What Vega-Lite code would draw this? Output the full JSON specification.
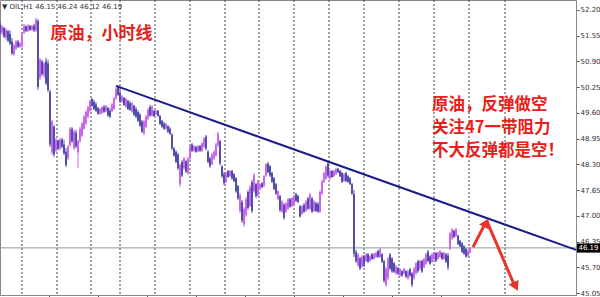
{
  "$schema": "https://vega.github.io/schema/vega-lite/v6.json",
  "width": 576,
  "height": 295,
  "autosize": {"type": "none"},
  "padding": {"left": 0, "top": 0, "right": 24, "bottom": 2},
  "background": "white",
  "config": {
    "view": {"stroke": "#888", "strokeWidth": 1},
    "axis": {"grid": false, "domainColor": "#888", "tickColor": "#555", "labelFont": "DejaVu Sans", "labelFontSize": 7, "labelColor": "#333", "tickSize": 3, "labelPadding": 1}
  },
  "datasets": {
    "grid": [{"g":22},{"g":57},{"g":91},{"g":120},{"g":155},{"g":190},{"g":225},{"g":259},{"g":294},{"g":329},{"g":364},{"g":399},{"g":434},{"g":469},{"g":505}],
    "candles": [
      {"t":0,"h":51.90,"l":51.57,"o":51.85,"c":51.62},
      {"t":2,"h":51.82,"l":51.57,"o":51.62,"c":51.78},
      {"t":4,"h":51.77,"l":51.49,"o":51.74,"c":51.52},
      {"t":6,"h":51.74,"l":51.44,"o":51.50,"c":51.70},
      {"t":8,"h":51.69,"l":51.39,"o":51.66,"c":51.42},
      {"t":10,"h":51.69,"l":51.31,"o":51.60,"c":51.35},
      {"t":12,"h":51.49,"l":51.06,"o":51.40,"c":51.10},
      {"t":14,"h":51.36,"l":51.04,"o":51.08,"c":51.30},
      {"t":16,"h":51.44,"l":51.19,"o":51.22,"c":51.40},
      {"t":18,"h":51.44,"l":51.24,"o":51.40,"c":51.27},
      {"t":20,"h":51.39,"l":51.24,"o":51.27,"c":51.36},
      {"t":22,"h":51.62,"l":51.24,"o":51.28,"c":51.58},
      {"t":24,"h":51.85,"l":51.59,"o":51.62,"c":51.80},
      {"t":26,"h":51.82,"l":51.64,"o":51.78,"c":51.67},
      {"t":28,"h":51.85,"l":51.64,"o":51.67,"c":51.80},
      {"t":30,"h":51.82,"l":51.67,"o":51.80,"c":51.70},
      {"t":32,"h":51.82,"l":51.67,"o":51.70,"c":51.79},
      {"t":34,"h":51.85,"l":51.64,"o":51.80,"c":51.68},
      {"t":36,"h":52.00,"l":51.64,"o":51.68,"c":51.95},
      {"t":38,"h":51.97,"l":50.18,"o":51.92,"c":50.25},
      {"t":40,"h":50.99,"l":50.43,"o":50.48,"c":50.94},
      {"t":42,"h":50.94,"l":50.53,"o":50.90,"c":50.58},
      {"t":44,"h":50.89,"l":50.48,"o":50.55,"c":50.85},
      {"t":46,"h":50.99,"l":50.30,"o":50.90,"c":50.35},
      {"t":48,"h":50.94,"l":50.13,"o":50.85,"c":50.18},
      {"t":50,"h":50.18,"l":48.74,"o":50.13,"c":48.80},
      {"t":52,"h":49.42,"l":48.54,"o":48.60,"c":49.38},
      {"t":54,"h":49.29,"l":48.49,"o":49.25,"c":48.55},
      {"t":56,"h":48.97,"l":48.61,"o":48.65,"c":48.92},
      {"t":58,"h":48.92,"l":48.66,"o":48.90,"c":48.70},
      {"t":60,"h":48.97,"l":48.66,"o":48.70,"c":48.93},
      {"t":62,"h":48.97,"l":48.71,"o":48.93,"c":48.75},
      {"t":64,"h":48.92,"l":48.54,"o":48.80,"c":48.58},
      {"t":66,"h":48.71,"l":48.23,"o":48.62,"c":48.28},
      {"t":68,"h":48.79,"l":48.41,"o":48.45,"c":48.75},
      {"t":70,"h":49.24,"l":48.74,"o":48.78,"c":49.20},
      {"t":72,"h":49.24,"l":48.84,"o":49.20,"c":48.88},
      {"t":74,"h":49.17,"l":48.66,"o":48.70,"c":49.12},
      {"t":76,"h":49.17,"l":48.71,"o":49.10,"c":48.75},
      {"t":78,"h":48.92,"l":48.21,"o":48.60,"c":48.88},
      {"t":80,"h":49.24,"l":48.84,"o":48.88,"c":49.20},
      {"t":82,"h":49.37,"l":48.99,"o":49.02,"c":49.33},
      {"t":84,"h":49.55,"l":49.17,"o":49.20,"c":49.50},
      {"t":86,"h":49.67,"l":49.29,"o":49.33,"c":49.62},
      {"t":88,"h":49.77,"l":49.47,"o":49.50,"c":49.74},
      {"t":90,"h":49.93,"l":49.62,"o":49.65,"c":49.90},
      {"t":92,"h":49.98,"l":49.75,"o":49.95,"c":49.78},
      {"t":94,"h":49.93,"l":49.67,"o":49.88,"c":49.70},
      {"t":96,"h":49.87,"l":49.62,"o":49.82,"c":49.65},
      {"t":98,"h":49.75,"l":49.55,"o":49.72,"c":49.58},
      {"t":100,"h":49.72,"l":49.55,"o":49.58,"c":49.70},
      {"t":102,"h":49.77,"l":49.57,"o":49.60,"c":49.74},
      {"t":104,"h":49.80,"l":49.60,"o":49.75,"c":49.63},
      {"t":106,"h":49.80,"l":49.62,"o":49.64,"c":49.78},
      {"t":108,"h":49.75,"l":49.50,"o":49.72,"c":49.53},
      {"t":110,"h":49.72,"l":49.47,"o":49.65,"c":49.50},
      {"t":112,"h":49.85,"l":49.62,"o":49.64,"c":49.82},
      {"t":114,"h":50.00,"l":49.67,"o":49.70,"c":49.97},
      {"t":116,"h":50.25,"l":49.93,"o":49.96,"c":50.20},
      {"t":118,"h":50.30,"l":50.03,"o":50.25,"c":50.05},
      {"t":120,"h":50.18,"l":49.85,"o":50.10,"c":49.88},
      {"t":122,"h":50.05,"l":49.85,"o":49.88,"c":50.02},
      {"t":124,"h":50.00,"l":49.77,"o":49.98,"c":49.80},
      {"t":126,"h":49.98,"l":49.72,"o":49.75,"c":49.95},
      {"t":128,"h":49.93,"l":49.67,"o":49.90,"c":49.70},
      {"t":130,"h":49.90,"l":49.65,"o":49.85,"c":49.68},
      {"t":132,"h":49.87,"l":49.60,"o":49.63,"c":49.84},
      {"t":134,"h":49.80,"l":49.52,"o":49.78,"c":49.55},
      {"t":136,"h":49.75,"l":49.47,"o":49.70,"c":49.50},
      {"t":138,"h":49.67,"l":49.37,"o":49.62,"c":49.40},
      {"t":140,"h":49.60,"l":49.24,"o":49.55,"c":49.28},
      {"t":142,"h":49.42,"l":49.09,"o":49.38,"c":49.12},
      {"t":144,"h":49.42,"l":49.04,"o":49.08,"c":49.38},
      {"t":146,"h":49.55,"l":49.22,"o":49.25,"c":49.50},
      {"t":148,"h":49.72,"l":49.42,"o":49.45,"c":49.68},
      {"t":150,"h":49.80,"l":49.50,"o":49.75,"c":49.53},
      {"t":152,"h":49.80,"l":49.50,"o":49.53,"c":49.76},
      {"t":154,"h":49.67,"l":49.50,"o":49.65,"c":49.52},
      {"t":156,"h":49.67,"l":49.55,"o":49.56,"c":49.65},
      {"t":158,"h":49.67,"l":49.50,"o":49.65,"c":49.52},
      {"t":160,"h":49.55,"l":49.29,"o":49.52,"c":49.32},
      {"t":162,"h":49.42,"l":49.22,"o":49.40,"c":49.25},
      {"t":164,"h":49.37,"l":49.17,"o":49.33,"c":49.20},
      {"t":166,"h":49.35,"l":49.17,"o":49.20,"c":49.32},
      {"t":168,"h":49.29,"l":49.09,"o":49.27,"c":49.12},
      {"t":170,"h":49.24,"l":49.04,"o":49.20,"c":49.07},
      {"t":172,"h":49.09,"l":48.66,"o":49.05,"c":48.70},
      {"t":174,"h":48.74,"l":48.49,"o":48.70,"c":48.52},
      {"t":176,"h":48.66,"l":48.33,"o":48.62,"c":48.36},
      {"t":178,"h":48.59,"l":48.16,"o":48.55,"c":48.20},
      {"t":180,"h":48.33,"l":47.73,"o":47.80,"c":48.28},
      {"t":182,"h":48.41,"l":47.98,"o":48.36,"c":48.02},
      {"t":184,"h":48.49,"l":48.16,"o":48.20,"c":48.45},
      {"t":186,"h":48.41,"l":48.08,"o":48.38,"c":48.12},
      {"t":188,"h":48.49,"l":48.03,"o":48.08,"c":48.45},
      {"t":190,"h":48.79,"l":48.41,"o":48.45,"c":48.75},
      {"t":192,"h":48.84,"l":48.61,"o":48.80,"c":48.64},
      {"t":194,"h":48.79,"l":48.61,"o":48.64,"c":48.76},
      {"t":196,"h":48.76,"l":48.59,"o":48.74,"c":48.62},
      {"t":198,"h":48.79,"l":48.61,"o":48.63,"c":48.76},
      {"t":200,"h":48.79,"l":48.61,"o":48.76,"c":48.64},
      {"t":202,"h":48.86,"l":48.61,"o":48.64,"c":48.83},
      {"t":204,"h":48.99,"l":48.71,"o":48.75,"c":48.95},
      {"t":206,"h":49.04,"l":48.66,"o":49.00,"c":48.70},
      {"t":208,"h":48.66,"l":48.33,"o":48.62,"c":48.36},
      {"t":210,"h":48.49,"l":48.21,"o":48.45,"c":48.25},
      {"t":212,"h":48.59,"l":48.28,"o":48.30,"c":48.55},
      {"t":214,"h":48.66,"l":48.41,"o":48.45,"c":48.62},
      {"t":216,"h":48.84,"l":48.49,"o":48.52,"c":48.80},
      {"t":218,"h":49.12,"l":48.74,"o":48.78,"c":49.08},
      {"t":220,"h":48.92,"l":48.28,"o":48.88,"c":48.32},
      {"t":222,"h":48.28,"l":47.96,"o":48.25,"c":48.00},
      {"t":224,"h":48.11,"l":47.78,"o":48.05,"c":47.82},
      {"t":226,"h":48.11,"l":47.83,"o":47.85,"c":48.08},
      {"t":228,"h":48.16,"l":47.96,"o":48.13,"c":47.98},
      {"t":230,"h":48.16,"l":47.98,"o":48.00,"c":48.13},
      {"t":232,"h":48.16,"l":47.91,"o":48.13,"c":47.94},
      {"t":234,"h":48.08,"l":47.85,"o":48.05,"c":47.88},
      {"t":236,"h":47.98,"l":47.58,"o":47.95,"c":47.62},
      {"t":238,"h":47.78,"l":47.40,"o":47.75,"c":47.44},
      {"t":240,"h":47.58,"l":47.07,"o":47.12,"c":47.52},
      {"t":242,"h":47.40,"l":46.82,"o":47.35,"c":46.88},
      {"t":244,"h":47.22,"l":46.72,"o":46.78,"c":47.18},
      {"t":246,"h":47.48,"l":46.97,"o":47.02,"c":47.42},
      {"t":248,"h":47.65,"l":47.15,"o":47.60,"c":47.20},
      {"t":250,"h":47.78,"l":47.22,"o":47.25,"c":47.72},
      {"t":252,"h":47.91,"l":47.07,"o":47.85,"c":47.12},
      {"t":254,"h":48.08,"l":47.58,"o":47.62,"c":48.03},
      {"t":256,"h":47.83,"l":47.45,"o":47.80,"c":47.50},
      {"t":258,"h":47.91,"l":47.48,"o":47.52,"c":47.87},
      {"t":260,"h":47.83,"l":47.65,"o":47.68,"c":47.80},
      {"t":262,"h":47.85,"l":47.70,"o":47.82,"c":47.72},
      {"t":264,"h":48.03,"l":47.73,"o":47.76,"c":48.00},
      {"t":266,"h":48.33,"l":47.98,"o":48.02,"c":48.30},
      {"t":268,"h":48.36,"l":48.08,"o":48.32,"c":48.10},
      {"t":270,"h":48.28,"l":47.98,"o":48.25,"c":48.02},
      {"t":272,"h":48.11,"l":47.83,"o":48.08,"c":47.86},
      {"t":274,"h":47.98,"l":47.65,"o":47.95,"c":47.68},
      {"t":276,"h":47.83,"l":47.53,"o":47.80,"c":47.56},
      {"t":278,"h":47.65,"l":47.40,"o":47.42,"c":47.62},
      {"t":280,"h":47.53,"l":47.10,"o":47.50,"c":47.14},
      {"t":282,"h":47.40,"l":47.07,"o":47.10,"c":47.36},
      {"t":284,"h":47.32,"l":46.90,"o":47.28,"c":46.95},
      {"t":286,"h":47.35,"l":47.07,"o":47.10,"c":47.32},
      {"t":288,"h":47.45,"l":47.15,"o":47.18,"c":47.42},
      {"t":290,"h":47.45,"l":47.20,"o":47.42,"c":47.23},
      {"t":292,"h":47.48,"l":47.22,"o":47.25,"c":47.45},
      {"t":294,"h":47.53,"l":47.27,"o":47.30,"c":47.50},
      {"t":296,"h":47.58,"l":47.35,"o":47.55,"c":47.38},
      {"t":298,"h":47.53,"l":47.32,"o":47.50,"c":47.35},
      {"t":300,"h":47.27,"l":46.95,"o":47.24,"c":46.98},
      {"t":302,"h":47.27,"l":47.02,"o":47.05,"c":47.24},
      {"t":304,"h":47.32,"l":47.07,"o":47.28,"c":47.10},
      {"t":306,"h":47.40,"l":47.10,"o":47.12,"c":47.36},
      {"t":308,"h":47.48,"l":47.15,"o":47.44,"c":47.18},
      {"t":310,"h":47.58,"l":47.15,"o":47.18,"c":47.54},
      {"t":312,"h":47.48,"l":47.07,"o":47.44,"c":47.10},
      {"t":314,"h":47.40,"l":47.10,"o":47.12,"c":47.36},
      {"t":316,"h":47.35,"l":47.10,"o":47.32,"c":47.12},
      {"t":318,"h":47.35,"l":47.07,"o":47.30,"c":47.10},
      {"t":320,"h":47.65,"l":47.07,"o":47.10,"c":47.60},
      {"t":322,"h":47.91,"l":47.53,"o":47.56,"c":47.87},
      {"t":324,"h":48.11,"l":47.83,"o":47.86,"c":48.08},
      {"t":326,"h":48.28,"l":47.91,"o":47.94,"c":48.24},
      {"t":328,"h":48.36,"l":47.98,"o":48.32,"c":48.02},
      {"t":330,"h":48.16,"l":47.91,"o":47.94,"c":48.13},
      {"t":332,"h":48.16,"l":47.96,"o":48.13,"c":47.98},
      {"t":334,"h":48.16,"l":47.98,"o":48.00,"c":48.14},
      {"t":336,"h":48.21,"l":48.03,"o":48.05,"c":48.19},
      {"t":338,"h":48.21,"l":48.08,"o":48.19,"c":48.10},
      {"t":340,"h":48.16,"l":47.98,"o":48.14,"c":48.00},
      {"t":342,"h":48.11,"l":47.83,"o":48.08,"c":47.86},
      {"t":344,"h":48.08,"l":47.85,"o":47.88,"c":48.05},
      {"t":346,"h":48.11,"l":47.85,"o":48.08,"c":47.88},
      {"t":348,"h":48.03,"l":47.83,"o":48.00,"c":47.86},
      {"t":350,"h":47.98,"l":47.78,"o":47.95,"c":47.80},
      {"t":352,"h":47.83,"l":47.53,"o":47.80,"c":47.56},
      {"t":354,"h":47.65,"l":45.96,"o":47.55,"c":46.05},
      {"t":356,"h":46.14,"l":45.81,"o":46.08,"c":45.85},
      {"t":358,"h":46.06,"l":45.71,"o":45.75,"c":46.02},
      {"t":360,"h":45.96,"l":45.63,"o":45.92,"c":45.67},
      {"t":362,"h":46.01,"l":45.68,"o":45.72,"c":45.97},
      {"t":364,"h":46.01,"l":45.71,"o":45.98,"c":45.74},
      {"t":366,"h":46.06,"l":45.83,"o":45.86,"c":46.03},
      {"t":368,"h":46.06,"l":45.81,"o":46.03,"c":45.84},
      {"t":370,"h":46.01,"l":45.83,"o":45.86,"c":45.98},
      {"t":372,"h":46.06,"l":45.89,"o":46.03,"c":45.91},
      {"t":374,"h":46.06,"l":45.89,"o":45.91,"c":46.04},
      {"t":376,"h":46.09,"l":45.94,"o":45.96,"c":46.07},
      {"t":378,"h":46.14,"l":45.94,"o":46.11,"c":45.96},
      {"t":380,"h":46.19,"l":45.94,"o":45.96,"c":46.16},
      {"t":382,"h":46.06,"l":45.81,"o":46.03,"c":45.84},
      {"t":384,"h":45.89,"l":45.31,"o":45.85,"c":45.36},
      {"t":386,"h":45.71,"l":45.20,"o":45.25,"c":45.66},
      {"t":388,"h":45.96,"l":45.38,"o":45.42,"c":45.92},
      {"t":390,"h":46.06,"l":45.63,"o":46.02,"c":45.67},
      {"t":392,"h":45.96,"l":45.56,"o":45.92,"c":45.60},
      {"t":394,"h":45.83,"l":45.56,"o":45.80,"c":45.59},
      {"t":396,"h":45.76,"l":45.51,"o":45.54,"c":45.72},
      {"t":398,"h":45.71,"l":45.51,"o":45.68,"c":45.54},
      {"t":400,"h":45.68,"l":45.46,"o":45.49,"c":45.65},
      {"t":402,"h":45.63,"l":45.46,"o":45.60,"c":45.49},
      {"t":404,"h":45.68,"l":45.51,"o":45.54,"c":45.66},
      {"t":406,"h":45.63,"l":45.43,"o":45.60,"c":45.46},
      {"t":408,"h":45.63,"l":45.38,"o":45.42,"c":45.60},
      {"t":410,"h":45.68,"l":45.46,"o":45.65,"c":45.49},
      {"t":412,"h":45.58,"l":45.20,"o":45.54,"c":45.26},
      {"t":414,"h":45.71,"l":45.38,"o":45.42,"c":45.67},
      {"t":416,"h":45.83,"l":45.51,"o":45.54,"c":45.80},
      {"t":418,"h":45.89,"l":45.56,"o":45.85,"c":45.60},
      {"t":420,"h":45.89,"l":45.63,"o":45.66,"c":45.86},
      {"t":422,"h":45.89,"l":45.56,"o":45.86,"c":45.60},
      {"t":424,"h":45.94,"l":45.68,"o":45.70,"c":45.91},
      {"t":426,"h":46.06,"l":45.76,"o":45.79,"c":46.03},
      {"t":428,"h":46.14,"l":45.83,"o":46.10,"c":45.86},
      {"t":430,"h":46.01,"l":45.76,"o":45.98,"c":45.79},
      {"t":432,"h":46.06,"l":45.81,"o":45.84,"c":46.03},
      {"t":434,"h":46.09,"l":45.89,"o":45.91,"c":46.06},
      {"t":436,"h":46.09,"l":45.83,"o":46.06,"c":45.86},
      {"t":438,"h":46.09,"l":45.89,"o":45.91,"c":46.07},
      {"t":440,"h":46.14,"l":45.94,"o":45.96,"c":46.11},
      {"t":442,"h":46.09,"l":45.89,"o":46.06,"c":45.91},
      {"t":444,"h":46.09,"l":45.89,"o":45.91,"c":46.07},
      {"t":446,"h":46.06,"l":45.81,"o":46.03,"c":45.84},
      {"t":448,"h":46.06,"l":45.63,"o":46.00,"c":45.70},
      {"t":450,"h":46.59,"l":46.14,"o":46.17,"c":46.55},
      {"t":452,"h":46.69,"l":46.39,"o":46.42,"c":46.66},
      {"t":454,"h":46.64,"l":46.44,"o":46.62,"c":46.46},
      {"t":456,"h":46.69,"l":46.47,"o":46.49,"c":46.66},
      {"t":458,"h":46.52,"l":46.26,"o":46.50,"c":46.29},
      {"t":460,"h":46.39,"l":46.21,"o":46.37,"c":46.23},
      {"t":462,"h":46.34,"l":46.06,"o":46.31,"c":46.09},
      {"t":464,"h":46.26,"l":46.01,"o":46.23,"c":46.04},
      {"t":466,"h":46.19,"l":45.94,"o":46.16,"c":45.97},
      {"t":468,"h":46.14,"l":45.96,"o":45.98,"c":46.12},
      {"t":470,"h":46.21,"l":46.06,"o":46.08,"c":46.19}
    ]
  },
  "layer": [
    {
      "data": {"name": "grid"},
      "mark": {"type": "rule", "color": "#444", "strokeDash": [2, 2], "strokeWidth": 1},
      "encoding": {
        "x": {"field": "g", "type": "quantitative", "scale": {"domain": [0, 576], "nice": false, "zero": false},
              "axis": {"title": null, "labels": false, "values": [49, 98, 147, 196, 245, 294, 343, 392, 441]}}
      }
    },
    {
      "data": {"values": [{"p": 46.19}]},
      "mark": {"type": "rule", "color": "#8a9c9c", "strokeWidth": 1},
      "encoding": {
        "y": {"field": "p", "type": "quantitative", "scale": {"domain": [45.0, 52.45], "nice": false, "zero": false},
              "axis": {"title": null, "orient": "right", "format": ".2f", "values": [45.05, 45.7, 46.35, 47.0, 47.65, 48.3, 48.95, 49.6, 50.25, 50.9, 51.55, 52.2]}}
      }
    },
    {
      "data": {"name": "candles"},
      "mark": {"type": "rule", "strokeWidth": 1},
      "encoding": {
        "x": {"field": "t", "type": "quantitative", "scale": {"domain": [0, 576], "nice": false, "zero": false},
              "axis": {"title": null, "labels": false, "values": [49, 98, 147, 196, 245, 294, 343, 392, 441]}},
        "y": {"field": "l", "type": "quantitative", "scale": {"domain": [45.0, 52.45], "nice": false, "zero": false},
              "axis": {"title": null, "orient": "right", "format": ".2f", "values": [45.05, 45.7, 46.35, 47.0, 47.65, 48.3, 48.95, 49.6, 50.25, 50.9, 51.55, 52.2]}},
        "y2": {"field": "h"},
        "color": {"condition": {"test": "datum.c >= datum.o", "value": "#cc66ee"}, "value": "#5050aa"}
      }
    },
    {
      "data": {"name": "candles"},
      "mark": {"type": "rule", "strokeWidth": 2},
      "encoding": {
        "x": {"field": "t", "type": "quantitative", "scale": {"domain": [0, 576], "nice": false, "zero": false},
              "axis": {"title": null, "labels": false, "values": [49, 98, 147, 196, 245, 294, 343, 392, 441]}},
        "y": {"field": "o", "type": "quantitative", "scale": {"domain": [45.0, 52.45], "nice": false, "zero": false},
              "axis": {"title": null, "orient": "right", "format": ".2f", "values": [45.05, 45.7, 46.35, 47.0, 47.65, 48.3, 48.95, 49.6, 50.25, 50.9, 51.55, 52.2]}},
        "y2": {"field": "c"},
        "color": {"condition": {"test": "datum.c >= datum.o", "value": "#cc66ee"}, "value": "#5050aa"}
      }
    },
    {
      "data": {"values": [{"t": 116, "p": 50.28}, {"t": 576, "p": 46.14}]},
      "mark": {"type": "line", "color": "#1c1c8c", "strokeWidth": 2},
      "encoding": {
        "x": {"field": "t", "type": "quantitative", "scale": {"domain": [0, 576], "nice": false, "zero": false},
              "axis": {"title": null, "labels": false, "values": [49, 98, 147, 196, 245, 294, 343, 392, 441]}},
        "y": {"field": "p", "type": "quantitative", "scale": {"domain": [45.0, 52.45], "nice": false, "zero": false},
              "axis": {"title": null, "orient": "right", "format": ".2f", "values": [45.05, 45.7, 46.35, 47.0, 47.65, 48.3, 48.95, 49.6, 50.25, 50.9, 51.55, 52.2]}}
      }
    },
    {
      "data": {"values": [
        {"a": "up", "t": 473, "p": 46.21}, {"a": "up", "t": 485, "p": 46.80},
        {"a": "down", "t": 487, "p": 46.86}, {"a": "down", "t": 514, "p": 45.27}
      ]},
      "mark": {"type": "line", "color": "#e8342a", "strokeWidth": 3},
      "encoding": {
        "detail": {"field": "a"},
        "x": {"field": "t", "type": "quantitative", "scale": {"domain": [0, 576], "nice": false, "zero": false},
              "axis": {"title": null, "labels": false, "values": [49, 98, 147, 196, 245, 294, 343, 392, 441]}},
        "y": {"field": "p", "type": "quantitative", "scale": {"domain": [45.0, 52.45], "nice": false, "zero": false},
              "axis": {"title": null, "orient": "right", "format": ".2f", "values": [45.05, 45.7, 46.35, 47.0, 47.65, 48.3, 48.95, 49.6, 50.25, 50.9, 51.55, 52.2]}}
      }
    },
    {
      "data": {"values": [
        {"t": 485.5, "p": 46.79, "ang": 27},
        {"t": 515, "p": 45.25, "ang": 155}
      ]},
      "mark": {"type": "point", "shape": "triangle", "filled": true, "color": "#e8342a", "size": 120, "opacity": 1},
      "encoding": {
        "x": {"field": "t", "type": "quantitative", "scale": {"domain": [0, 576], "nice": false, "zero": false},
              "axis": {"title": null, "labels": false, "values": [49, 98, 147, 196, 245, 294, 343, 392, 441]}},
        "y": {"field": "p", "type": "quantitative", "scale": {"domain": [45.0, 52.45], "nice": false, "zero": false},
              "axis": {"title": null, "orient": "right", "format": ".2f", "values": [45.05, 45.7, 46.35, 47.0, 47.65, 48.3, 48.95, 49.6, 50.25, 50.9, 51.55, 52.2]}},
        "angle": {"field": "ang", "type": "quantitative", "scale": null}
      }
    },
    {
      "data": {"values": [{"t": 101.5, "p": 51.60, "label": "原油，小时线"}]},
      "mark": {"type": "text", "font": "Noto Sans CJK SC", "fontSize": 17, "fontWeight": "bold", "color": "#e8201a", "align": "center", "baseline": "middle"},
      "encoding": {
        "x": {"field": "t", "type": "quantitative", "scale": {"domain": [0, 576], "nice": false, "zero": false},
              "axis": {"title": null, "labels": false, "values": [49, 98, 147, 196, 245, 294, 343, 392, 441]}},
        "y": {"field": "p", "type": "quantitative", "scale": {"domain": [45.0, 52.45], "nice": false, "zero": false},
              "axis": {"title": null, "orient": "right", "format": ".2f", "values": [45.05, 45.7, 46.35, 47.0, 47.65, 48.3, 48.95, 49.6, 50.25, 50.9, 51.55, 52.2]}},
        "text": {"field": "label"}
      }
    },
    {
      "data": {"values": [
        {"t": 432, "p": 49.80, "label": "原油，反弹做空"},
        {"t": 432, "p": 49.22, "label": "关注47一带阻力"},
        {"t": 432, "p": 48.64, "label": "不大反弹都是空！"}
      ]},
      "mark": {"type": "text", "font": "Noto Sans CJK SC", "fontSize": 16.5, "fontWeight": "bold", "color": "#e8201a", "align": "left", "baseline": "middle"},
      "encoding": {
        "x": {"field": "t", "type": "quantitative", "scale": {"domain": [0, 576], "nice": false, "zero": false},
              "axis": {"title": null, "labels": false, "values": [49, 98, 147, 196, 245, 294, 343, 392, 441]}},
        "y": {"field": "p", "type": "quantitative", "scale": {"domain": [45.0, 52.45], "nice": false, "zero": false},
              "axis": {"title": null, "orient": "right", "format": ".2f", "values": [45.05, 45.7, 46.35, 47.0, 47.65, 48.3, 48.95, 49.6, 50.25, 50.9, 51.55, 52.2]}},
        "text": {"field": "label"}
      }
    },
    {
      "data": {"values": [{"t": 2, "p": 52.27, "label": "▼ OIL,H1  46.15 46.24 46.12 46.19"}]},
      "mark": {"type": "text", "font": "DejaVu Sans", "fontSize": 7, "color": "#333", "align": "left", "baseline": "middle"},
      "encoding": {
        "x": {"field": "t", "type": "quantitative", "scale": {"domain": [0, 576], "nice": false, "zero": false},
              "axis": {"title": null, "labels": false, "values": [49, 98, 147, 196, 245, 294, 343, 392, 441]}},
        "y": {"field": "p", "type": "quantitative", "scale": {"domain": [45.0, 52.45], "nice": false, "zero": false},
              "axis": {"title": null, "orient": "right", "format": ".2f", "values": [45.05, 45.7, 46.35, 47.0, 47.65, 48.3, 48.95, 49.6, 50.25, 50.9, 51.55, 52.2]}},
        "text": {"field": "label"}
      }
    },
    {
      "data": {"values": [{"t": 577, "t2": 600, "p": 46.30, "p2": 46.07}]},
      "mark": {"type": "rect", "color": "#000", "clip": false},
      "encoding": {
        "x": {"field": "t", "type": "quantitative", "scale": {"domain": [0, 576], "nice": false, "zero": false},
              "axis": {"title": null, "labels": false, "values": [49, 98, 147, 196, 245, 294, 343, 392, 441]}},
        "x2": {"field": "t2"},
        "y": {"field": "p", "type": "quantitative", "scale": {"domain": [45.0, 52.45], "nice": false, "zero": false},
              "axis": {"title": null, "orient": "right", "format": ".2f", "values": [45.05, 45.7, 46.35, 47.0, 47.65, 48.3, 48.95, 49.6, 50.25, 50.9, 51.55, 52.2]}},
        "y2": {"field": "p2"}
      }
    },
    {
      "data": {"values": [{"t": 588.5, "p": 46.19, "label": "46.19"}]},
      "mark": {"type": "text", "font": "DejaVu Sans", "fontSize": 7, "color": "#fff", "align": "center", "baseline": "middle", "clip": false},
      "encoding": {
        "x": {"field": "t", "type": "quantitative", "scale": {"domain": [0, 576], "nice": false, "zero": false},
              "axis": {"title": null, "labels": false, "values": [49, 98, 147, 196, 245, 294, 343, 392, 441]}},
        "y": {"field": "p", "type": "quantitative", "scale": {"domain": [45.0, 52.45], "nice": false, "zero": false},
              "axis": {"title": null, "orient": "right", "format": ".2f", "values": [45.05, 45.7, 46.35, 47.0, 47.65, 48.3, 48.95, 49.6, 50.25, 50.9, 51.55, 52.2]}},
        "text": {"field": "label"}
      }
    }
  ]
}
